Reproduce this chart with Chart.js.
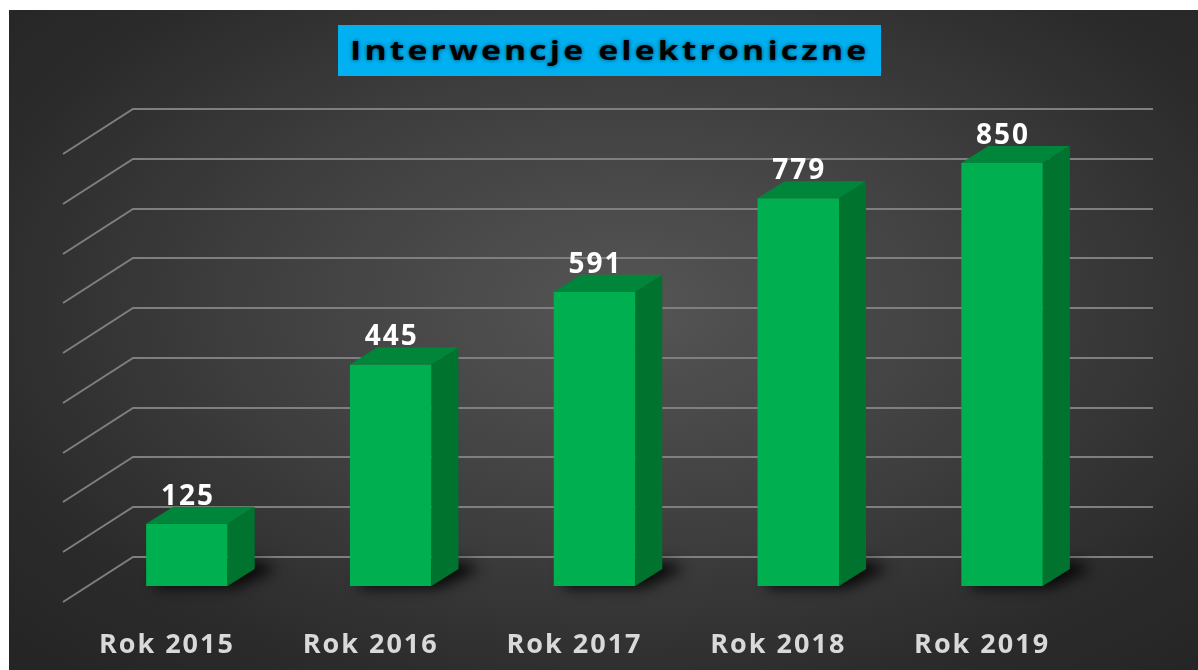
<!DOCTYPE html>
<html>
<head>
<meta charset="utf-8">
<script src="https://cdn.jsdelivr.net/npm/chart.js@4/dist/chart.umd.min.js"></script>
<style>
  html, body { margin: 0; padding: 0; background: #fff; }
  body { width: 1198px; height: 670px; position: relative; overflow: hidden; }
  #bg {
    position: absolute; left: 9px; top: 10px; width: 1189px; height: 660px;
    background: radial-gradient(ellipse 70% 75% at 52% 45%, #555555 0%, #3f3f3f 45%, #2b2b2b 80%, #252525 100%);
  }
  #title {
    position: absolute; left: 338px; top: 25px; width: 543px; height: 51px;
    background: #00b0f0; color: #000;
    font: bold 27px "Open Sans", sans-serif;
    text-align: center; line-height: 50px; white-space: nowrap;
  }
  #title span {
    display: inline-block; letter-spacing: 2.5px; transform: scaleX(1.25);
    text-shadow: 0 0 4px rgba(0,0,0,0.6);
  }
  #wrap { position: absolute; left: 0; top: 0; width: 1198px; height: 670px; }
</style>
</head>
<body>
<div id="bg"></div>
<div id="wrap"><canvas id="chart"></canvas></div>
<div id="title"><span id="titleText"></span></div>
<script>
// Interwencje elektroniczne, 2015-2019
const chartTitle = 'Interwencje elektroniczne';
const categories = ['Rok 2015', 'Rok 2016', 'Rok 2017', 'Rok 2018', 'Rok 2019'];
const values = [125, 445, 591, 779, 850];
const yMax = 900;
const yStep = 100;

document.getElementById('titleText').textContent = chartTitle;

const FRONT = '#00b050';
const TOP = '#00863a';
const SIDE = '#00742f';
const GRID = '#7f7f7f';

// 3d look: side/top faces, floor shadow, perspective gridlines
const bars3d = {
  id: 'bars3d',
  beforeDraw(chart) {
    // slightly wider tick labels like the original
    chart.ctx.letterSpacing = '2px';
  },
  beforeDatasetsDraw(chart) {
    const { ctx, chartArea, scales } = chart;
    const y = scales.y;
    const backL = chartArea.left + 48, backR = chartArea.right + 49;
    ctx.save();
    ctx.strokeStyle = GRID;
    ctx.lineWidth = 2;
    const ticks = y.ticks && y.ticks.length ? y.ticks.map(t => t.value) : [];
    for (const v of ticks) {
      const yb = Math.round(y.getPixelForValue(v) - 29);
      ctx.beginPath();
      ctx.moveTo(backL - 70, yb + 45);
      ctx.lineTo(backL, yb);
      ctx.lineTo(backR, yb);
      ctx.stroke();
    }
    // shadows on the floor
    const meta = chart.getDatasetMeta(0);
    ctx.filter = 'blur(7px)';
    ctx.fillStyle = 'rgba(0,0,0,0.85)';
    for (const bar of meta.data) {
      const l = bar.x - bar.width / 2, r = bar.x + bar.width / 2;
      ctx.beginPath();
      ctx.moveTo(l + 10, bar.base + 2);
      ctx.lineTo(r + 8, bar.base + 2);
      ctx.lineTo(r + 27 + 22, bar.base - 17);
      ctx.lineTo(r + 27 + 5, bar.base - 24);
      ctx.lineTo(l + 10, bar.base - 20);
      ctx.closePath();
      ctx.fill();
    }
    ctx.restore();
  },
  afterDatasetsDraw(chart) {
    const { ctx } = chart;
    const meta = chart.getDatasetMeta(0);
    const dx = 27, dy = 17;
    ctx.save();
    meta.data.forEach((bar, i) => {
      const l = bar.x - bar.width / 2, r = bar.x + bar.width / 2;
      const t = bar.y, b = bar.base;
      ctx.fillStyle = TOP;
      ctx.beginPath();
      ctx.moveTo(l, t); ctx.lineTo(l + dx, t - dy); ctx.lineTo(r + dx, t - dy); ctx.lineTo(r, t);
      ctx.closePath(); ctx.fill();
      ctx.fillStyle = SIDE;
      ctx.beginPath();
      ctx.moveTo(r, t); ctx.lineTo(r + dx, t - dy); ctx.lineTo(r + dx, b - dy); ctx.lineTo(r, b);
      ctx.closePath(); ctx.fill();

      ctx.fillStyle = '#ffffff';
      ctx.font = 'bold 28px "Open Sans", sans-serif';
      ctx.letterSpacing = '2px';
      ctx.textAlign = 'center';
      ctx.textBaseline = 'alphabetic';
      ctx.fillText(String(values[i]), bar.x + 1, t - 19);
    });
    ctx.restore();
  },
  afterDraw(chart) {
    chart.ctx.letterSpacing = '0px';
  }
};

new Chart(document.getElementById('chart'), {
  type: 'bar',
  data: {
    labels: categories,
    datasets: [{ data: values, backgroundColor: FRONT, borderWidth: 0,
      barPercentage: 0.4, categoryPercentage: 1 }]
  },
  options: {
    responsive: true, maintainAspectRatio: false, animation: false,
    layout: { padding: { left: 85, right: 94, top: 138, bottom: 0 } },
    plugins: { legend: { display: false }, tooltip: { enabled: false }, title: { display: false } },
    scales: {
      x: {
        grid: { display: false }, border: { display: false },
        ticks: { color: '#d9d9d9', font: { family: 'Open Sans', size: 27, weight: 'bold' }, labelOffset: -20, padding: 35 },
        afterFit: s => { s.height = 84; }
      },
      y: {
        display: false, min: 0, max: yMax,
        ticks: { stepSize: yStep }
      }
    }
  },
  plugins: [bars3d]
});
</script>
</body>
</html>
